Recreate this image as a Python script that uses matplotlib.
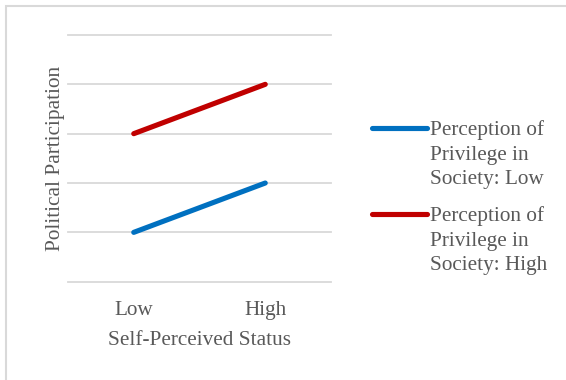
import matplotlib
matplotlib.use("Agg")
import matplotlib.pyplot as plt
from matplotlib.lines import Line2D
from matplotlib.patches import Rectangle

# Data
status_levels = ["Low", "High"]
participation_low_privilege = [1, 2]
participation_high_privilege = [3, 4]
series_labels = ["Perception of\nPrivilege in\nSociety: Low",
                 "Perception of\nPrivilege in\nSociety: High"]
series_colors = ["#0070C0", "#C00000"]
y_gridlines = [0, 1, 2, 3, 4, 5]

W, H = 566, 380
DPI = 100
FS = 15.3
plt.rcParams["font.family"] = ["Liberation Serif", "DejaVu Serif"]
text_color = "#595959"
grid_color = "#D9D9D9"

fig = plt.figure(figsize=(W / DPI, H / DPI), dpi=DPI)
fig.patch.set_facecolor("white")

# Chart-area border (runs off the right and bottom edges)
fig.patches.append(Rectangle((6 / W, -0.2), 1.2, 1.2 - 6 / H, transform=fig.transFigure,
                             fill=False, edgecolor="#D9D9D9", linewidth=1.5))

def fx(px):
    return px / W

def fy(py):
    return 1 - py / H

left, right, top, bottom = 68, 331, 35, 281.7
ax = fig.add_axes([fx(left), fy(bottom), fx(right) - fx(left), fy(top) - fy(bottom)])
ax.set_xlim(-0.5, len(status_levels) - 0.5)
ax.set_ylim(y_gridlines[0], y_gridlines[-1])
for s in ax.spines.values():
    s.set_visible(False)

for g in y_gridlines:
    ax.axhline(g, color=grid_color, linewidth=1.3, clip_on=False, zorder=1)

x = list(range(len(status_levels)))
for vals, color in zip([participation_low_privilege, participation_high_privilege], series_colors):
    ax.plot(x, vals, color=color, linewidth=3.7, solid_capstyle="round", zorder=3)

ax.set_xticks(x)
ax.set_xticklabels(status_levels, fontsize=FS, color=text_color)
ax.tick_params(axis="x", length=0, pad=14)
ax.set_yticks([])
ax.set_xlabel("Self-Perceived Status", fontsize=FS, color=text_color, labelpad=8)
ax.set_ylabel("Political Participation", fontsize=FS, color=text_color, labelpad=2.5)

# Legend
legend_rows = [128.3, 214.3]
for label, color, ry in zip(series_labels, series_colors, legend_rows):
    fig.add_artist(Line2D([fx(372), fx(427)], [fy(ry), fy(ry)], color=color,
                          linewidth=3.7, solid_capstyle="round", transform=fig.transFigure))
    fig.text(fx(430), fy(ry - 8), label, fontsize=FS, color=text_color,
             ha="left", va="top", linespacing=1.38)

fig.savefig("out.png", dpi=DPI, facecolor="white")
